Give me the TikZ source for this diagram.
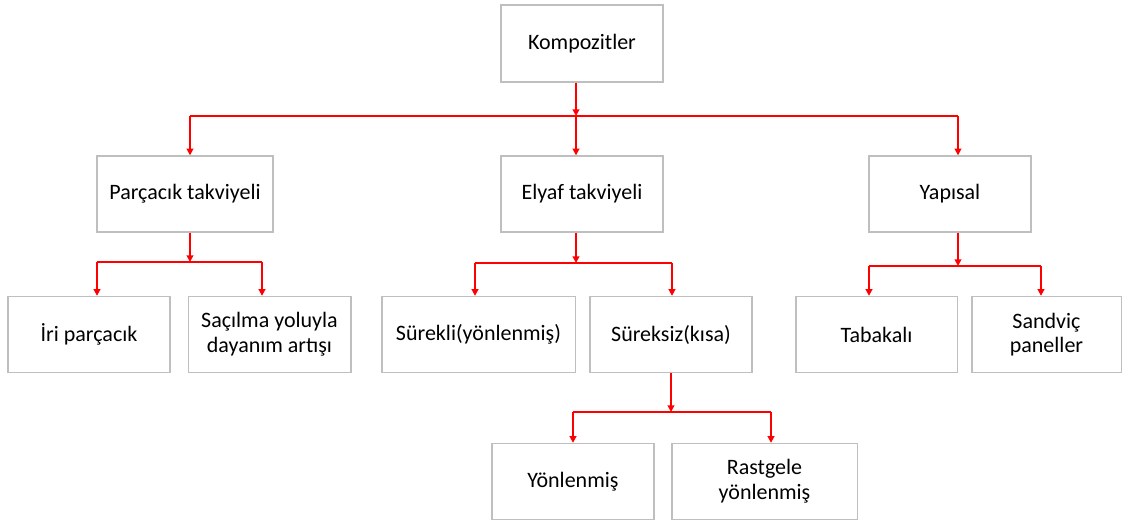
\documentclass[tikz,border=0pt]{standalone}
\usepackage{fontspec}
\setmainfont{Carlito}
\usetikzlibrary{arrows.meta}
\definecolor{boxgray}{RGB}{191,191,191}
\definecolor{linkred}{RGB}{255,0,0}
\tikzset{every picture/.style={line width=0.75pt}}
\tikzset{
  box/.style={draw=boxgray, line width=1pt, align=center, inner sep=0pt,
    minimum height=57pt, font=\fontsize{16.5}{18.5}\selectfont},
  wire/.style={draw=linkred, line width=1.5pt},
  link/.style={wire, -{Triangle[length=5pt,width=5pt]}}
}

\begin{document}
\begin{tikzpicture}[x=0.75pt,y=0.75pt,yscale=-1,xscale=1]
\useasboundingbox (0,0) rectangle (1129,525);

% Boxes
\node [box, minimum width=121.5pt, minimum height=57.75pt] (komp) at (582,43.5) {Kompozitler};
\node [box, minimum width=132pt] (parcacik) at (185,194) {Parçacık takviyeli};
\node [box, minimum width=121.5pt] (elyaf) at (582,194) {Elyaf takviyeli};
\node [box, minimum width=121.5pt] (yapisal) at (950,194) {Yapısal};
\node [box, minimum width=121.5pt] (iri) at (89,334.5) {İri parçacık};
\node [box, minimum width=122pt] (sacilma) at (269.5,334.5) {Saçılma yoluyla\\dayanım artışı};
\node [box, minimum width=145pt] (surekli) at (478.5,334.5) {Sürekli(yönlenmiş)};
\node [box, minimum width=121.5pt] (sureksiz) at (671,334.5) {Süreksiz(kısa)};
\node [box, minimum width=121pt] (tabakali) at (876.5,334.5) {Tabakalı};
\node [box, minimum width=112pt] (sandvic) at (1046.5,334.5) {Sandviç\\paneller};
\node [box, minimum width=121.5pt] (yonlenmis) at (573,481.5) {Yönlenmiş};
\node [box, minimum width=139pt] (rastgele) at (764.5,481.5) {Rastgele\\yönlenmiş};

% Junctions
\coordinate (j0) at (576,116);
\coordinate (j0a) at (190,116);
\coordinate (j0b) at (958,116);
\coordinate (j1) at (190,262);
\coordinate (j1a) at (97,262);
\coordinate (j1b) at (262,262);
\coordinate (j2) at (576,263);
\coordinate (j2a) at (475,263);
\coordinate (j2b) at (672,263);
\coordinate (j3) at (958,266);
\coordinate (j3a) at (869,266);
\coordinate (j3b) at (1041,266);
\coordinate (j4) at (671,412);
\coordinate (j4a) at (573,412);
\coordinate (j4b) at (771,412);

% Connectors
\draw [wire] (j0a) -- (j0b);
\draw [link] (komp.south -| j0) -- (j0);
\draw [link] (j0a) -- (j0a |- parcacik.north);
\draw [link] (j0) -- (j0 |- elyaf.north);
\draw [link] (j0b) -- (j0b |- yapisal.north);

\draw [wire] (j1a) -- (j1b);
\draw [link] (parcacik.south -| j1) -- (j1);
\draw [link] (j1a) -- (j1a |- iri.north);
\draw [link] (j1b) -- (j1b |- sacilma.north);

\draw [wire] (j2a) -- (j2b);
\draw [link] (elyaf.south -| j2) -- (j2);
\draw [link] (j2a) -- (j2a |- surekli.north);
\draw [link] (j2b) -- (j2b |- sureksiz.north);

\draw [wire] (j3a) -- (j3b);
\draw [link] (yapisal.south -| j3) -- (j3);
\draw [link] (j3a) -- (j3a |- tabakali.north);
\draw [link] (j3b) -- (j3b |- sandvic.north);

\draw [wire] (j4a) -- (j4b);
\draw [link] (sureksiz.south -| j4) -- (j4);
\draw [link] (j4a) -- (j4a |- yonlenmis.north);
\draw [link] (j4b) -- (j4b |- rastgele.north);

\end{tikzpicture}
\end{document}
